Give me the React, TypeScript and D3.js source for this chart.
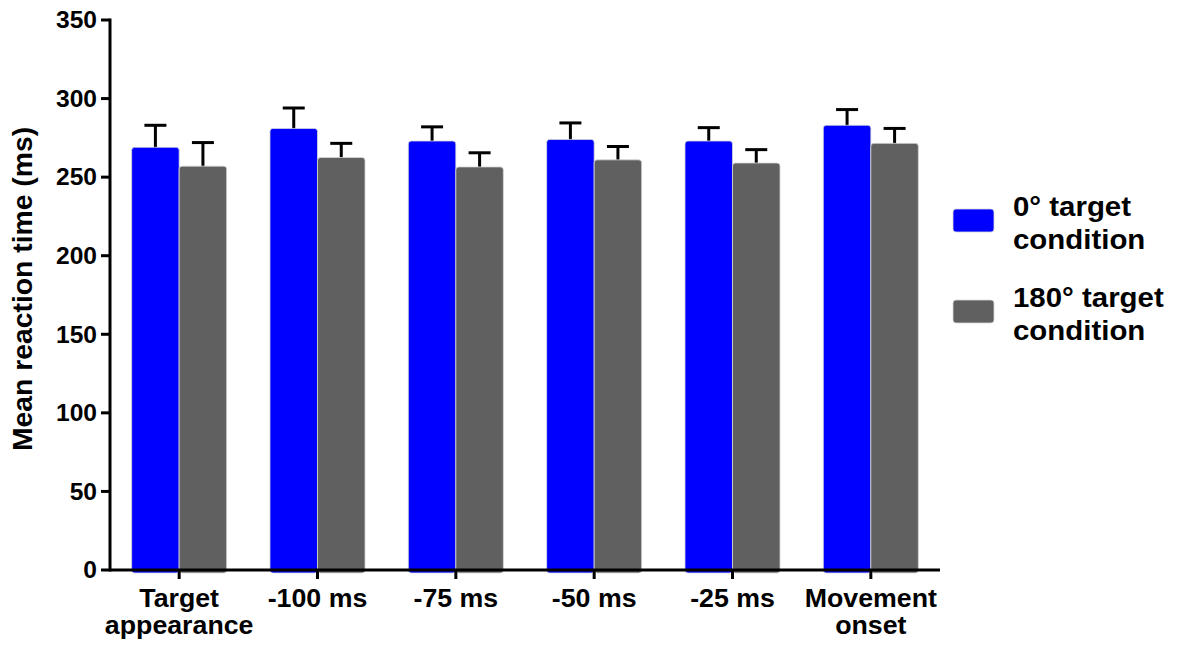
import React from "react";
import * as d3 from "d3";

const categories: string[][] = [
  ["Target", "appearance"],
  ["-100 ms"],
  ["-75 ms"],
  ["-50 ms"],
  ["-25 ms"],
  ["Movement", "onset"],
];
const seriesNames = ["0° target condition", "180° target condition"];
const zeroDeg = [269, 281, 273, 274, 273, 283];
const zeroDegErr = [14, 13, 9, 10.5, 8.5, 10];
const oneEighty = [257, 262.5, 256.5, 261, 259, 271.5];
const oneEightyErr = [15, 9, 9, 8.5, 8.5, 9.5];
const yTicks = [0, 50, 100, 150, 200, 250, 300, 350];
const colors = ["#0000ff", "#606060"];

const W = 1177;
const H = 645;
const FONT = "Arial, 'Liberation Sans', Helvetica, sans-serif";
const SX = 1.07;

export default function App() {
  const left = 110, right = 940, top = 20, bottom = 570;
  const keys = categories.map((c) => c.join(" "));
  const x = d3.scaleBand<string>().domain(keys).range([left, right]).padding(0);
  const y = d3.scaleLinear().domain([0, 350]).range([bottom, top]);
  const groupW = x.bandwidth() * 0.687;
  const xs = d3
    .scaleBand<number>()
    .domain([0, 1])
    .range([-groupW / 2, groupW / 2])
    .padding(0);
  const series = [
    { vals: zeroDeg, errs: zeroDegErr },
    { vals: oneEighty, errs: oneEightyErr },
  ];
  const capW = 22;

  return (
    <svg
      width={W}
      height={H}
      style={{ position: "absolute", left: 0, top: 0, background: "#fff" }}
      fontFamily={FONT}
      fontWeight="bold"
    >
      {/* bars */}
      {keys.map((k, i) => {
        const cx = (x(k) as number) + x.bandwidth() / 2;
        return (
          <g key={k}>
            {series.map((s, j) => {
              const bx = cx + (xs(j) as number);
              const bw = xs.bandwidth();
              const v = s.vals[i];
              const e = s.errs[i];
              const mid = bx + bw / 2;
              return (
                <g key={j}>
                  <line
                    x1={mid}
                    x2={mid}
                    y1={y(v) + 2}
                    y2={y(v + e)}
                    stroke="#000"
                    strokeWidth={3}
                  />
                  <line
                    x1={mid - capW / 2}
                    x2={mid + capW / 2}
                    y1={y(v + e)}
                    y2={y(v + e)}
                    stroke="#000"
                    strokeWidth={3}
                  />
                  <rect
                    x={bx}
                    y={y(v)}
                    width={bw}
                    height={y(0) - y(v) + 3}
                    rx={3}
                    fill={colors[j]}
                    stroke="#d8d8d8"
                    strokeWidth={0.8}
                  />
                </g>
              );
            })}
          </g>
        );
      })}

      {/* y axis */}
      <line x1={left} x2={left} y1={top - 1.5} y2={bottom + 1.5} stroke="#000" strokeWidth={3} />
      {yTicks.map((t) => (
        <g key={t}>
          <line x1={left - 9} x2={left} y1={y(t)} y2={y(t)} stroke="#000" strokeWidth={3} />
          <text
            transform={`translate(${left - 13}, ${y(t)}) scale(${SX},1)`}
            dy="0.36em"
            textAnchor="end"
            fontSize={23}
            fill="#000"
          >
            {t}
          </text>
        </g>
      ))}

      {/* x axis */}
      <line x1={left} x2={right} y1={bottom} y2={bottom} stroke="#000" strokeWidth={3} />
      {keys.map((k, i) => {
        const cx = (x(k) as number) + x.bandwidth() / 2;
        return (
          <g key={k}>
            <line x1={cx} x2={cx} y1={bottom} y2={bottom + 9} stroke="#000" strokeWidth={3} />
            {categories[i].map((ln, li) => (
              <text
                key={li}
                transform={`translate(${cx}, ${607 + li * 27}) scale(${SX},1)`}
                textAnchor="middle"
                fontSize={25}
                fill="#000"
              >
                {ln}
              </text>
            ))}
          </g>
        );
      })}

      {/* y title */}
      <text
        transform={`translate(32, 289) rotate(-90) scale(1.03,1)`}
        textAnchor="middle"
        fontSize={27.5}
        fill="#000"
      >
        Mean reaction time (ms)
      </text>

      {/* legend */}
      {seriesNames.map((name, j) => {
        const sy = 209 + j * 91;
        const words = name.split(" ");
        const line1 = words.slice(0, 2).join(" ");
        const line2 = words.slice(2).join(" ");
        return (
          <g key={name}>
            <rect x={953} y={sy} width={41} height={23} rx={3} fill={colors[j]} stroke="#d8d8d8" strokeWidth={0.8} />
            <text transform={`translate(1013, ${sy + 7}) scale(${SX},1)`} fontSize={27.5} fill="#000">
              {line1}
            </text>
            <text transform={`translate(1013, ${sy + 40}) scale(${SX},1)`} fontSize={27.5} fill="#000">
              {line2}
            </text>
          </g>
        );
      })}
    </svg>
  );
}
